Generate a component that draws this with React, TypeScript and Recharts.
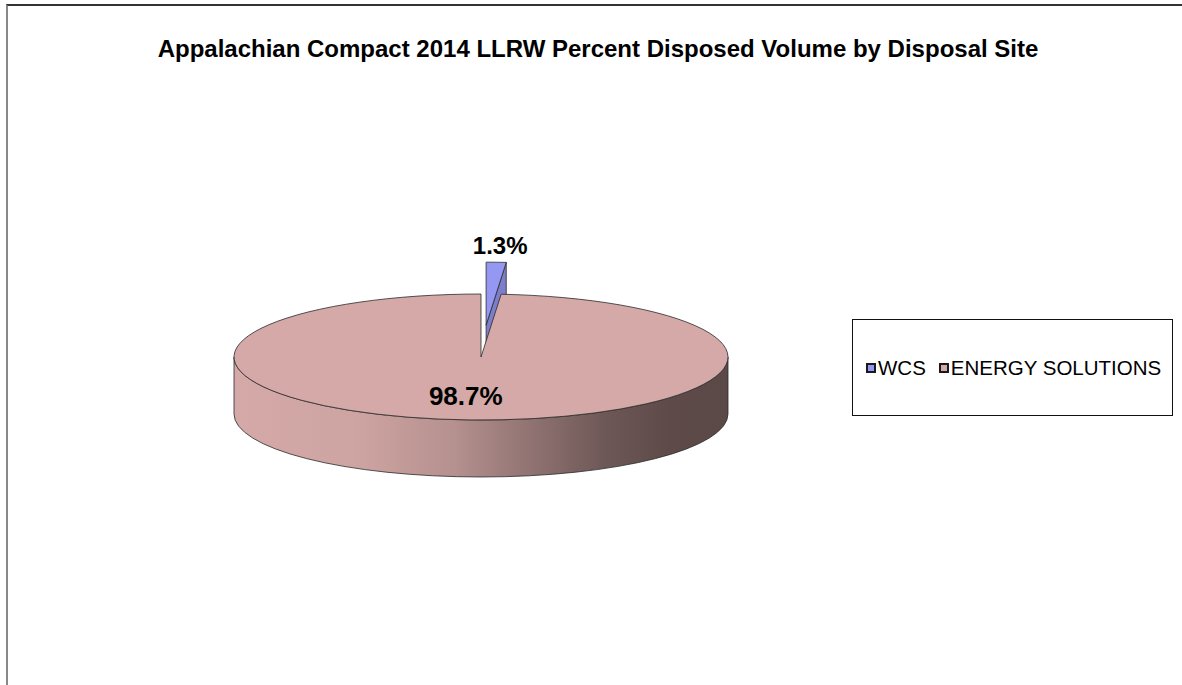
import { PieChart, Pie, Cell, Legend } from "recharts";

const sites = ["WCS", "ENERGY SOLUTIONS"];
const volumePct = [1.3, 98.7];
const sliceColors = ["#9598f2", "#d4a9a7"];
const explodeBy = [125, 0];

const data = sites.map((name, i) => ({ name, value: volumePct[i] }));

const FONT = '"Liberation Sans", Arial, sans-serif';
const TILT = 0.255;
const DEPTH = 57;
const RAD = Math.PI / 180;

function shade(hex: string, k: number) {
  const n = parseInt(hex.slice(1), 16);
  const c = [(n >> 16) & 255, (n >> 8) & 255, n & 255].map((v) => Math.round(v * k));
  return `rgb(${c[0]},${c[1]},${c[2]})`;
}

function sliceIndex(p: any) {
  const name = p.name ?? p.payload?.name;
  const i = sites.indexOf(name);
  return i >= 0 ? i : p.index ?? 0;
}

// 3D elliptical slice, using the angles Recharts computed for the sector
function Slice3D(props: any) {
  const { cx, cy, outerRadius, startAngle, endAngle, fill } = props;
  const index = sliceIndex(props);
  const rx = outerRadius;
  const ry = rx * TILT;
  const ex = explodeBy[index] ?? 0;
  const mid = ((startAngle + endAngle) / 2) * RAD;
  const ox = cx + ex * Math.cos(mid);
  const oy = cy - ex * TILT * Math.sin(mid);
  const hi = Math.max(startAngle, endAngle);
  const lo = Math.min(startAngle, endAngle);
  const pt = (a: number, dz = 0) => [ox + rx * Math.cos(a * RAD), oy - ry * Math.sin(a * RAD) + dz];
  const f = (p: number[]) => `${p[0]} ${p[1]}`;
  const arc = (from: number, to: number, dz: number, sweep: number) =>
    `A ${rx} ${ry} 0 ${Math.abs(from - to) > 180 ? 1 : 0} ${sweep} ${f(pt(to, dz))}`;

  const top = `M ${ox} ${oy} L ${f(pt(hi))} ${arc(hi, lo, 0, 1)} Z`;

  const walls: string[] = [];
  for (const base of [-540, -180, 180]) {
    const b0 = Math.max(lo, base);
    const b1 = Math.min(hi, base + 180);
    if (b1 - b0 > 0.01) {
      walls.push(`M ${f(pt(b1))} ${arc(b1, b0, 0, 1)} L ${f(pt(b0, DEPTH))} ${arc(b0, b1, DEPTH, 0)} Z`);
    }
  }

  const faces: string[] = [];
  [
    [hi, hi + 90],
    [lo, lo - 90],
  ].forEach(([a, n]) => {
    if (Math.sin(n * RAD) < -0.01) {
      faces.push(`M ${ox} ${oy} L ${f(pt(a))} L ${f(pt(a, DEPTH))} L ${ox} ${oy + DEPTH} Z`);
    }
  });

  const gid = `side-${index}`;
  return (
    <g>
      <defs>
        <linearGradient id={gid} gradientUnits="userSpaceOnUse" x1={ox - rx} y1={0} x2={ox + rx} y2={0}>
          <stop offset="0" stopColor={shade(fill, 1)} />
          <stop offset="0.25" stopColor={shade(fill, 0.97)} />
          <stop offset="0.45" stopColor={shade(fill, 0.85)} />
          <stop offset="0.6" stopColor={shade(fill, 0.68)} />
          <stop offset="0.75" stopColor={shade(fill, 0.52)} />
          <stop offset="0.88" stopColor={shade(fill, 0.44)} />
          <stop offset="1" stopColor={shade(fill, 0.43)} />
        </linearGradient>
      </defs>
      {faces.map((d, i) => (
        <path key={`f${i}`} d={d} fill={shade(fill, 0.83)} stroke="#2a2a2a" strokeWidth={0.8} />
      ))}
      {walls.map((d, i) => (
        <path key={`w${i}`} d={d} fill={`url(#${gid})`} stroke="#2a2a2a" strokeWidth={0.8} />
      ))}
      <path d={top} fill={fill} stroke="#2a2a2a" strokeWidth={0.8} />
    </g>
  );
}

function renderLabel(p: any) {
  const { cx, cy, outerRadius, midAngle, value } = p;
  const index = sliceIndex(p);
  const ex = explodeBy[index] ?? 0;
  const a = midAngle * RAD;
  let x: number;
  let y: number;
  let size: number;
  if (ex > 0) {
    const r = outerRadius + ex;
    x = cx + r * Math.cos(a) + 4;
    y = cy - r * TILT * Math.sin(a) - 17;
    size = 24;
  } else {
    const r = outerRadius * 0.62;
    x = cx + r * Math.cos(a) - 9;
    y = cy - r * TILT * Math.sin(a);
    size = 26;
  }
  return (
    <text
      x={x}
      y={y}
      textAnchor="middle"
      dominantBaseline="central"
      fontFamily={FONT}
      fontWeight="bold"
      fontSize={size}
      fill="#000"
    >
      {`${Number(value).toFixed(1)}%`}
    </text>
  );
}

// legend keeps the data order (WCS first), like the original
function LegendBox() {
  return (
    <div
      style={{
        width: 321,
        height: 97,
        boxSizing: "border-box",
        border: "1px solid #111",
        background: "#fff",
        display: "flex",
        alignItems: "center",
        paddingLeft: 13,
        fontFamily: FONT,
        fontSize: 20.5,
        color: "#000",
        whiteSpace: "nowrap",
        overflow: "visible",
      }}
    >
      {sites.map((s, i) => (
        <div key={s} style={{ display: "flex", alignItems: "center", marginRight: 13, flexShrink: 0 }}>
          <span
            style={{
              display: "inline-block",
              width: 10,
              height: 10,
              boxSizing: "border-box",
              border: "2px solid #1a1a1a",
              background: sliceColors[i],
              marginRight: 2,
              flexShrink: 0,
            }}
          />
          <span>{s}</span>
        </div>
      ))}
    </div>
  );
}

export default function App() {
  return (
    <div style={{ position: "absolute", left: 0, top: 0, width: 1182, height: 685, background: "#fff", overflow: "hidden" }}>
      <div
        style={{
          position: "absolute",
          left: 6,
          top: 4,
          width: 1300,
          height: 800,
          borderTop: "2px solid #333",
          borderLeft: "2px solid #888",
        }}
      />
      <div
        style={{
          position: "absolute",
          left: 0,
          top: 35,
          width: 1196,
          textAlign: "center",
          fontFamily: FONT,
          fontWeight: "bold",
          fontSize: 24,
          color: "#000",
          whiteSpace: "nowrap",
        }}
      >
        Appalachian Compact 2014 LLRW Percent Disposed Volume by Disposal Site
      </div>
      <div style={{ position: "absolute", left: 0, top: 0 }}>
        <PieChart width={1182} height={685} margin={{ top: 0, right: 0, bottom: 0, left: 0 }}>
          <Pie
            data={data}
            dataKey="value"
            nameKey="name"
            cx={481}
            cy={357}
            outerRadius={247}
            startAngle={90}
            endAngle={-270}
            shape={Slice3D}
            activeShape={Slice3D}
            inactiveShape={Slice3D}
            label={renderLabel}
            labelLine={false}
            isAnimationActive={false}
          >
            {data.map((d, i) => (
              <Cell key={d.name} fill={sliceColors[i]} />
            ))}
          </Pie>
          <Legend
            content={LegendBox}
            wrapperStyle={{ position: "absolute", left: 852, top: 319, width: 321, height: 97 }}
          />
        </PieChart>
      </div>
    </div>
  );
}
